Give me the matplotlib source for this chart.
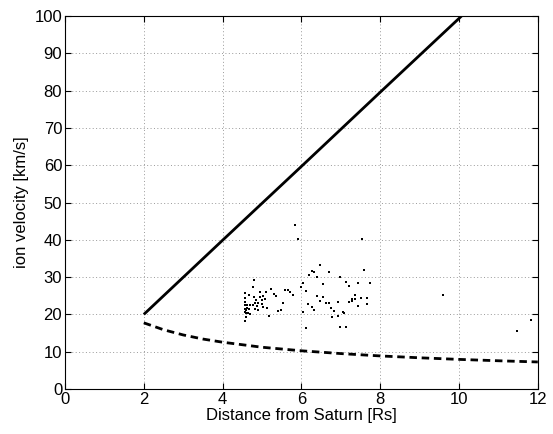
import matplotlib
matplotlib.use("Agg")
import matplotlib.pyplot as plt

plt.rcParams['font.family'] = ['Liberation Sans', 'DejaVu Sans']

# corotation velocity line (km/s vs Rs)
corot_r = [2, 4, 6, 8, 10, 12]
corot_v = [20.0, 39.9, 59.7, 79.6, 99.4, 119.3]

# Keplerian velocity curve
kep_r = [2, 2.5, 3, 3.5, 4, 5, 6, 7, 8, 9, 10, 11, 12]
kep_v = [17.75, 15.9, 14.5, 13.4, 12.55, 11.2, 10.25, 9.5, 8.87, 8.37, 7.94, 7.57, 7.25]

# measured ion velocities
obs_r = [4.79, 4.58, 4.68, 4.76, 4.95, 5.09, 5.24, 5.30, 5.36, 4.80, 4.86, 4.95, 5.03,
         4.99, 5.07, 4.56, 4.57, 4.56, 4.62, 4.69, 4.76, 4.83, 4.91, 5.00, 4.88, 4.83,
         4.91, 5.03, 5.14, 5.40, 4.56, 4.59, 4.62, 4.66, 4.56, 4.60, 4.64, 4.69, 4.59,
         4.58, 5.18,
         5.84, 5.91, 7.53, 6.47, 6.26, 6.33, 6.19, 6.70, 6.40, 6.98, 7.59, 6.05, 6.54,
         7.14, 7.43, 7.75, 5.99, 7.21, 5.59, 5.66, 5.72, 5.78, 6.11, 6.40, 6.54, 6.47,
         7.36, 7.29, 7.36, 7.51, 7.67, 7.21, 7.28, 6.92, 6.62, 6.69, 5.53, 6.18, 7.66,
         7.44, 6.26, 6.33, 6.76, 6.83, 5.47, 6.05, 7.05, 7.07, 6.92, 6.77, 6.11, 6.99,
         7.14,
         9.59, 11.83, 11.47]
obs_v = [29.3, 25.7, 25.1, 27.3, 26.0, 25.9, 26.8, 25.6, 24.9, 24.6, 24.0, 24.6, 24.9,
         23.8, 24.1, 24.3, 23.3, 22.4, 22.4, 22.4, 22.4, 23.1, 23.1, 22.9, 22.2, 21.5,
         21.1, 22.1, 21.6, 20.9, 21.5, 21.2, 21.8, 21.4, 20.7, 20.5, 20.3, 20.1, 19.4,
         18.3, 19.7,
         44.0, 40.1, 40.1, 33.3, 31.6, 31.4, 30.7, 31.5, 30.0, 30.1, 31.8, 28.5, 28.2,
         28.8, 28.3, 28.3, 27.3, 27.6, 26.5, 26.5, 25.9, 25.2, 26.4, 24.9, 24.8, 23.6,
         25.1, 24.1, 24.1, 24.5, 24.3, 23.3, 23.6, 23.4, 23.1, 23.1, 23.1, 22.9, 22.9,
         22.3, 21.9, 21.3, 21.7, 21.0, 21.1, 20.7, 20.7, 20.5, 19.7, 19.2, 16.4, 16.6,
         16.6,
         25.1, 18.6, 15.6]

x_ticks = [0, 2, 4, 6, 8, 10, 12]
y_ticks = [0, 10, 20, 30, 40, 50, 60, 70, 80, 90, 100]

fig = plt.figure(figsize=(5.53, 4.34), dpi=100)
ax = fig.add_axes([0.1175, 0.1037, 0.855, 0.859])

ax.plot(corot_r, corot_v, color='black', linewidth=2.0, solid_capstyle='butt')
ax.plot(kep_r, kep_v, color='black', linewidth=2.0, linestyle=(0, (2.7, 1.7)))
ax.plot(obs_r, obs_v, linestyle='none', marker='s', markersize=1.7,
        color='black', markeredgewidth=0)

ax.set_xlim(0, 12)
ax.set_ylim(0, 100)
ax.set_xticks(x_ticks)
ax.set_yticks(y_ticks)
ax.tick_params(direction='in', top=True, right=True, length=4, labelsize=12,
               width=0.8, pad=2)
ax.grid(True, color='0.6', linestyle=(0, (1, 2.5)), linewidth=0.7)
for s in ax.spines.values():
    s.set_linewidth(0.8)

ax.set_xlabel('Distance from Saturn [Rs]', fontsize=12, labelpad=1)
ax.set_ylabel('ion velocity [km/s]', fontsize=12, labelpad=4)

fig.savefig('out.png', dpi=100)
